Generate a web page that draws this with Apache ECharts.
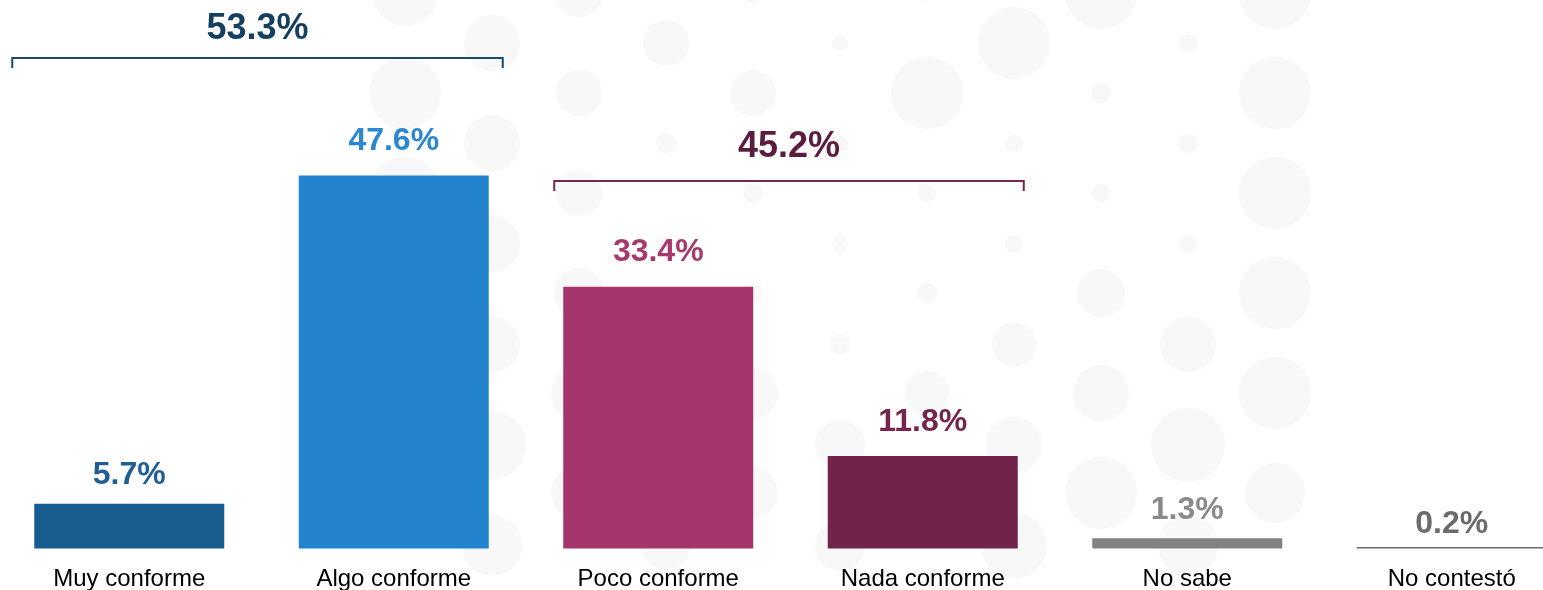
<!DOCTYPE html>
<html><head><meta charset="utf-8">
<script src="https://cdn.jsdelivr.net/npm/echarts@6/dist/echarts.min.js"></script>
<style>html,body{margin:0;padding:0;background:#fff;overflow:hidden}#c{width:1543px;height:590px}</style>
</head><body><div id="c"></div>
<script>
// ---- data ----
const categories = ['Muy conforme', 'Algo conforme', 'Poco conforme', 'Nada conforme', 'No sabe', 'No contestó'];
const values = [5.7, 47.6, 33.4, 11.8, 1.3, 0.2];
const groupTotals = [53.3, 45.2];
const groupStart = [0, 2];
const groupEnd = [1, 3];

// ---- styles / layout ----
const barColors = ['#195c8f', '#2383cf', '#a5356b', '#72234a', '#828282', '#6b6b6b'];
const labelColors = ['#1f5f94', '#2b87d1', '#a8396d', '#76264d', '#8a8a8a', '#6b6b6b'];
const labelGaps = [13, 18, 19, 18, 12, 7];
const bracketStyle = [
  {line: '#1b4a6e', text: '#153f5f', lineY: 58, textY: 29, padL: 22, padR: 14},
  {line: '#7b2552', text: '#5b1c3f', lineY: 181, textY: 147, padL: 9, padR: 6}
];
const FONT = 'Arial, "Liberation Sans", sans-serif';

// decorative background dots (hex grid)
const dotRadii = [
  [33, 36, 36, 33, 30, 30],
  [28, 28, 28, 28, 34, 30],
  [24, 23, 23, 25, 28, 28],
  [23, 10, 8, 10, 20, 24],
  [10, 23, 10, 10, 25, 25],
  [8, 8, 8, 10, 25, 25],
  [8, 36, 9, 10, 22, 25],
  [36, 9, 9, 22, 28, 33],
  [36, 10, 9, 24, 28, 36],
  [9, 10, 9, 28, 37, 30],
  [36, 36, 36, 36, 36, 30]
];
const dots = [];
dotRadii.forEach((col, c) => {
  col.forEach((r, k) => {
    const cx = 405 + 87 * c;
    const cy = (c % 2 === 0) ? (-7 + 100 * k) : (43 + 100.5 * k);
    dots.push({type: 'circle', silent: true, z: -10, shape: {cx: cx, cy: cy, r: r}, style: {fill: '#f8f8f8'}});
  });
});

const bracketData = groupTotals.map((t, i) => [groupStart[i], groupEnd[i], t]);

const chart = echarts.init(document.getElementById('c'), null, {renderer: 'canvas'});
chart.setOption({
  animation: false,
  backgroundColor: '#ffffff',
  graphic: {elements: dots},
  grid: {left: -3, width: 1587, top: 0, bottom: 41.5, containLabel: false, outerBoundsMode: 'none'},
  xAxis: {
    type: 'category',
    data: categories,
    axisLine: {show: false},
    axisTick: {show: false},
    splitLine: {show: false},
    axisLabel: {fontSize: 24, color: '#000', fontFamily: FONT, margin: 19, interval: 0}
  },
  yAxis: {type: 'value', min: 0, max: 70, show: false, splitLine: {show: false}},
  series: [
    {
      type: 'bar',
      barWidth: 190,
      z: 3,
      data: values.map((v, i) => ({
        value: v,
        itemStyle: {color: barColors[i]},
        label: {color: labelColors[i], distance: labelGaps[i]}
      })),
      label: {
        show: true,
        position: 'top',
        fontSize: 32,
        fontWeight: 'bold',
        fontFamily: FONT,
        formatter: p => p.value.toFixed(1) + '%'
      }
    },
    {
      type: 'custom',
      z: 4,
      silent: true,
      data: bracketData,
      encode: {x: [0, 1], y: 2},
      renderItem: function (params, api) {
        const i = params.dataIndex;
        const st = bracketStyle[i];
        const bw = 190;
        const s = api.coord([api.value(0), 0]);
        const e = api.coord([api.value(1), 0]);
        const x1 = s[0] - bw / 2 - st.padL;
        const x2 = e[0] + bw / 2 + st.padR;
        const y = st.lineY;
        return {
          type: 'group',
          children: [
            {type: 'polyline', shape: {points: [[x1, y + 10], [x1, y], [x2, y], [x2, y + 10]]},
             style: {stroke: st.line, lineWidth: 2, fill: null}},
            {type: 'text', x: (x1 + x2) / 2, y: st.textY,
             style: {text: api.value(2).toFixed(1) + '%', fill: st.text, font: 'bold 36px ' + FONT,
                     align: 'center', verticalAlign: 'middle'}}
          ]
        };
      }
    }
  ]
});
</script>
</body></html>
